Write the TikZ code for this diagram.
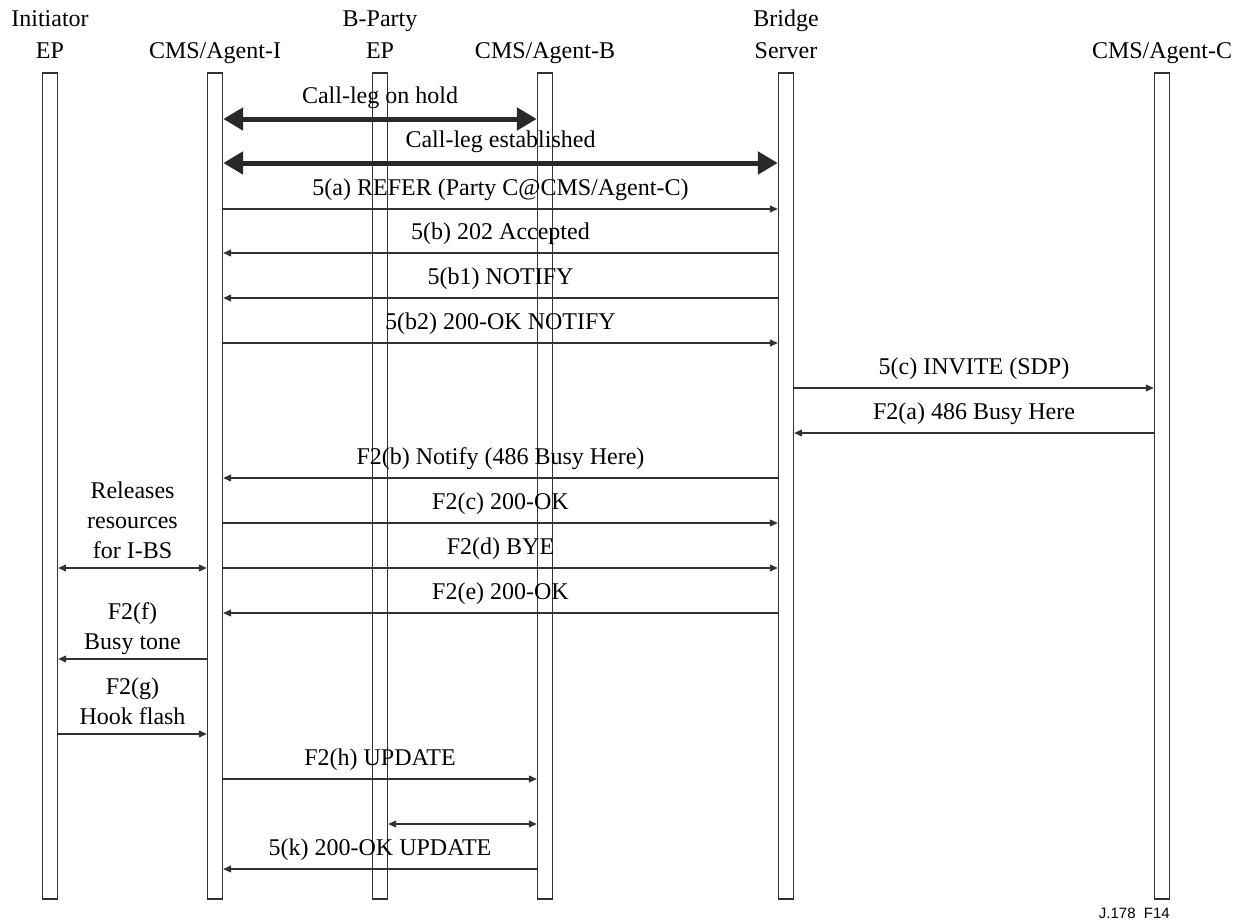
\documentclass[tikz,border=0pt]{standalone}
\usepackage{fontspec}
\setmainfont{Liberation Serif}
\setsansfont{Liberation Sans}
\usepackage{tikz}
\usetikzlibrary{positioning, arrows.meta}

\definecolor{ink}{gray}{0.2}
\tikzset{
  lifebar/.style={draw=ink, line width=0.7pt, minimum width=7.5pt, minimum height=413pt, inner sep=0pt},
  head/.style={align=center, inner sep=0pt, text depth=0pt, font=\fontsize{12}{16}\selectfont},
  msg/.style={draw=ink, line width=0.6pt, -{Triangle[length=4pt,width=3.5pt]}},
  both/.style={msg, {Triangle[length=4pt,width=3.5pt]}-{Triangle[length=4pt,width=3.5pt]}},
  callleg/.style={draw=ink!80!black, line width=2.5pt, {Triangle[length=10pt,width=11pt]}-{Triangle[length=10pt,width=11pt]}},
  lbl/.style={above, inner sep=3.5pt, text depth=3pt},
  note/.style={above, align=center, inner sep=1.5pt, text depth=3pt},
}

\begin{document}
\begin{tikzpicture}[x=0.5pt, y=-0.5pt, font=\fontsize{12}{15}\selectfont]
    \useasboundingbox (0,0) rectangle (1236,921);

    % Lifelines and their names
    \foreach \n/\x/\h in {init/50/{Initiator\\EP}, agI/215/{CMS/Agent-I}, bp/380/{B-Party\\EP}, agB/545/{CMS/Agent-B}, br/786/{Bridge\\Server}, agC/1162/{CMS/Agent-C}} {
      \node[lifebar] (\n) at (\x,486) {};
      \node[head, above=6.5pt of \n] (h\n) {\h};
    }

    % Call legs
    \draw[callleg] (agI.east |- 0,119) -- node[lbl] {Call-leg on hold} (agB.west |- 0,119);
    \draw[callleg] (agI.east |- 0,163) -- node[lbl] {Call-leg established} (br.west |- 0,163);

    % Messages
    \foreach \y/\a/\b/\m in {209/agI.east/br.west/{5(a) REFER (Party C@CMS/Agent-C)}, 253/br.west/agI.east/{5(b) 202 Accepted}, 298/br.west/agI.east/{5(b1) NOTIFY}, 343/agI.east/br.west/{5(b2) 200-OK NOTIFY}, 388/br.east/agC.west/{5(c) INVITE (SDP)}, 433/agC.west/br.east/{F2(a) 486 Busy Here}, 478/br.west/agI.east/{F2(b) Notify (486 Busy Here)}, 523/agI.east/br.west/{F2(c) 200-OK}, 568/agI.east/br.west/{F2(d) BYE}, 613/br.west/agI.east/{F2(e) 200-OK}, 779/agI.east/agB.west/{F2(h) UPDATE}, 869/agB.west/agI.east/{5(k) 200-OK UPDATE}} {
      \draw[msg] (\a |- 0,\y) -- node[lbl] {\m} (\b |- 0,\y);
    }

    % Initiator side
    \draw[both] (init.east |- 0,568) -- node[note] {Releases\\resources\\for I-BS} (agI.west |- 0,568);
    \draw[msg] (agI.west |- 0,659) -- node[note] {F2(f)\\Busy tone} (init.east |- 0,659);
    \draw[msg] (init.east |- 0,734) -- node[note] {F2(g)\\Hook flash} (agI.west |- 0,734);
    \draw[both] (bp.east |- 0,824) -- (agB.west |- 0,824);

    \node[anchor=base east, inner sep=0pt, font=\sffamily\fontsize{7.5}{9}\selectfont] (tag) at ([yshift=-9.5pt]agC.south east) {J.178~~F14};

\end{tikzpicture}
\end{document}
